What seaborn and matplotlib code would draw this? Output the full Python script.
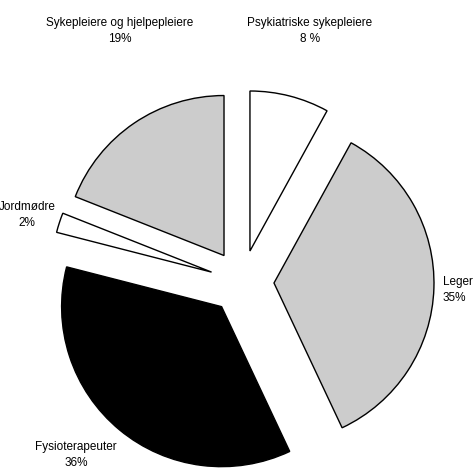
import matplotlib
matplotlib.use("Agg")
import matplotlib.pyplot as plt
import seaborn as sns

# slices, counter-clockwise from 12 o'clock
groups = ["Sykepleiere og hjelpepleiere", "Jordmødre", "Fysioterapeuter", "Leger", "Psykiatriske sykepleiere"]
shares = [19, 2, 36, 35, 8]
share_text = ["19%", "2%", "36%", "35%", "8 %"]
fills = ["#cccccc", "white", "black", "#cccccc", "white"]

# label anchors in pixels (x, y from top) and alignment
label_pos = [(120, 31, "center"), (27, 215, "center"), (76, 455, "center"), (443, 290, "left"), (310, 31, "center")]

sns.set_style("white")
plt.rcParams["font.family"] = ["Liberation Sans", "DejaVu Sans"]

W, H = 473, 469
fig = plt.figure(figsize=(W / 100, H / 100), dpi=100)
ax = fig.add_axes([0, 0, 1, 1])

ax.pie(shares, colors=fills, startangle=90, counterclock=True,
       explode=[0.2] * len(shares),
       wedgeprops=dict(edgecolor="black", linewidth=1.0))

# pie centre sits at pixel (242, 282), radius 160 px
cx, cy, r = 242, 282, 160
ax.set_xlim(-cx / r, (W - cx) / r)
ax.set_ylim((cy - H) / r, cy / r)
ax.set_aspect("auto")
ax.axis("off")

for name, pct, (px, py, ha) in zip(groups, share_text, label_pos):
    fig.text(px / W, 1 - py / H, f"{name}\n{pct}", ha=ha, va="center", color="black",
             fontsize=8.5, linespacing=1.35, multialignment="center" if ha == "center" else "left")

fig.savefig("out.png", dpi=100, facecolor="white")
